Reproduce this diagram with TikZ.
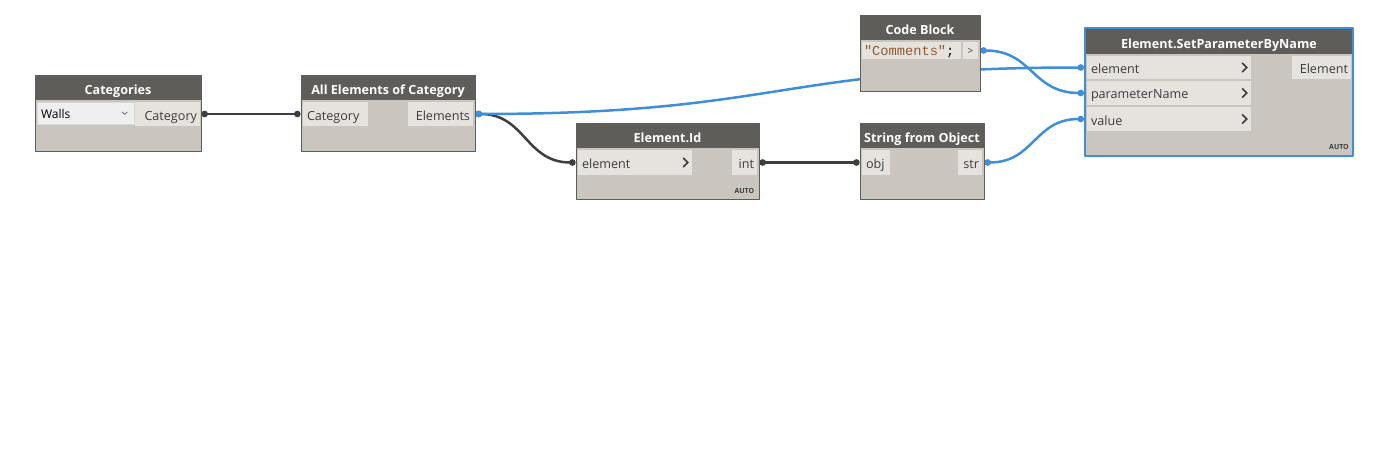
\documentclass[tikz,border=0pt]{standalone}
\usepackage{fontspec}
\setmainfont{Open Sans}
\newfontfamily\codefont{Liberation Mono}
\usetikzlibrary{
  arrows.meta,
  positioning,
  fit,
  backgrounds
}
\definecolor{hdrgray}{HTML}{5F5D5A}
\definecolor{bodygray}{HTML}{CAC6BF}
\definecolor{portgray}{HTML}{E6E3DF}
\definecolor{textgray}{HTML}{3C3C3C}
\definecolor{wiredark}{HTML}{3E3E3E}
\definecolor{wireblue}{HTML}{3E8ED8}
\definecolor{codebrown}{HTML}{8E5A2E}
\definecolor{dropgray}{HTML}{EFEFEF}

\begin{document}
\begin{tikzpicture}[
  x=1pt, y=-1pt,
  font=\fontsize{12.6}{14}\selectfont,
  line cap=round,
  line join=round,
  body/.style={
    draw=hdrgray,
    fill=bodygray,
    line width=0.8pt,
    inner sep=0pt
  },
  selbody/.style={
    draw=wireblue,
    fill=bodygray,
    line width=2pt,
    inner sep=0pt
  },
  header/.style={
    fill=hdrgray,
    inner sep=0pt
  },
  htext/.style={
    anchor=base,
    text=white,
    font=\fontsize{12.6}{14}\selectfont\bfseries,
    inner sep=0pt
  },
  port/.style={
    fill=portgray,
    inner sep=0pt
  },
  drop/.style={
    fill=dropgray,
    draw=white!85!black,
    line width=0.4pt,
    inner sep=0pt
  },
  intext/.style={
    anchor=base west,
    text=textgray,
    inner sep=0pt
  },
  outtext/.style={
    anchor=base east,
    text=textgray,
    inner sep=0pt
  },
  autolab/.style={
    font=\fontsize{7}{8}\selectfont\bfseries,
    text=textgray,
    inner sep=0pt
  },
  chev/.style={
    draw=textgray,
    line width=1.6pt,
    line cap=butt,
    line join=miter
  },
  wdark/.style={
    {Circle[length=6.5pt]}-{Circle[length=6.5pt]},
    draw=wiredark,
    line width=2.5pt
  },
  wblue/.style={
    {Circle[length=6.5pt]}-{Circle[length=6.5pt]},
    draw=wireblue,
    line width=2.5pt
  }
]
\useasboundingbox (0,0) rectangle (1390,460);

% Categories
\node[body, fit={(35,75) (201,151)}] (cat) {};
\node[header, fit={(35,75) (201,100)}] (cathd) {};
\node[htext] (cathdlab) at ([shift={(0,7)}]cathd.center) {Categories};
\node[drop, fit={(37,102) (134,124)}] (catdrop) {};
\node[intext, text=black, font=\fontsize{12}{14}\selectfont] (catwalls) at ([shift={(4,5)}]catdrop.west) {Walls};
\draw[draw=textgray, line width=0.6pt] ([shift={(-12,-1)}]catdrop.east) -- ++(2.5,2.5) -- ++(2.5,-2.5);
\node[port, fit={(135,102) (200,126)}] (catout) {};
\node[outtext] (catoutlab) at ([shift={(-3,6)}]catout.east) {Category};

% All Elements of Category
\node[body, fit={(301,75) (475,151)}] (all) {};
\node[header, fit={(301,75) (475,100)}] (allhd) {};
\node[htext] (allhdlab) at ([shift={(0,7)}]allhd.center) {All Elements of Category};
\node[port, fit={(303,102) (368,126)}] (allin) {};
\node[intext] (allinlab) at ([shift={(4,6)}]allin.west) {Category};
\node[port, fit={(408,102) (473,126)}] (allout) {};
\node[outtext] (alloutlab) at ([shift={(-3,6)}]allout.east) {Elements};

% Element.Id
\node[body, fit={(576,123) (759,199)}] (eid) {};
\node[header, fit={(576,123) (759,148)}] (eidhd) {};
\node[htext] (eidhdlab) at ([shift={(0,7)}]eidhd.center) {Element.Id};
\node[port, fit={(578,150) (692,175)}] (eidin) {};
\node[intext] (eidinlab) at ([shift={(4,6)}]eidin.west) {element};
\draw[chev] ([shift={(-9,4.5)}]eidin.east) -- ++(4.5,-4.5) -- ++(-4.5,-4.5);
\node[port, fit={(732,150) (757,175)}] (eidout) {};
\node[outtext] (eidoutlab) at ([shift={(-3,6)}]eidout.east) {int};
\node[autolab, anchor=south east] (eidauto) at ([shift={(-5,-6)}]eid.south east) {AUTO};

% Code Block
\node[body, fit={(860,15) (980,91)}] (cb) {};
\node[header, fit={(860,15) (980,40)}] (cbhd) {};
\node[htext] (cbhdlab) at ([shift={(0,7)}]cbhd.center) {Code Block};
\node[port, fit={(862,42) (961,59)}] (cbcode) {};
\node[intext, text=black, font=\codefont\fontsize{13.7}{14}\selectfont] (cbtext) at ([shift={(2,5)}]cbcode.west) {\textcolor{codebrown}{"Comments"};};
\node[port, fit={(963,42) (978,59)}] (cbout) {};
\node[anchor=base, text=textgray, inner sep=0pt, font=\fontsize{10}{12}\selectfont] (cboutlab) at ([shift={(0,4)}]cbout.center) {>};

% String from Object
\node[body, fit={(860,123) (984,199)}] (sfo) {};
\node[header, fit={(860,123) (984,148)}] (sfohd) {};
\node[htext] (sfohdlab) at ([shift={(0,7)}]sfohd.center) {String from Object};
\node[port, fit={(862,150) (890,175)}] (sfoin) {};
\node[intext] (sfoinlab) at ([shift={(4,6)}]sfoin.west) {obj};
\node[port, fit={(958,150) (982,175)}] (sfoout) {};
\node[outtext] (sfooutlab) at ([shift={(-3,6)}]sfoout.east) {str};

% Element.SetParameterByName
\node[selbody, fit={(1085,28) (1353,156)}] (spn) {};
\node[header, fit={(1086,29) (1352,54)}] (spnhd) {};
\node[htext] (spnhdlab) at ([shift={(0,7)}]spnhd.center) {Element.SetParameterByName};
\node[port, fit={(1087,56) (1251,79)}] (spnelem) {};
\node[intext] (spnelemlab) at ([shift={(4,6)}]spnelem.west) {element};
\draw[chev] ([shift={(-9,4.5)}]spnelem.east) -- ++(4.5,-4.5) -- ++(-4.5,-4.5);
\node[port, fit={(1087,81) (1251,105)}] (spnname) {};
\node[intext] (spnnamelab) at ([shift={(4,6)}]spnname.west) {parameterName};
\draw[chev] ([shift={(-9,4.5)}]spnname.east) -- ++(4.5,-4.5) -- ++(-4.5,-4.5);
\node[port, fit={(1087,107) (1251,131)}] (spnval) {};
\node[intext] (spnvallab) at ([shift={(4,6)}]spnval.west) {value};
\draw[chev] ([shift={(-9,4.5)}]spnval.east) -- ++(4.5,-4.5) -- ++(-4.5,-4.5);
\node[port, fit={(1292,56) (1351,79)}] (spnout) {};
\node[outtext] (spnoutlab) at ([shift={(-3,6)}]spnout.east) {Element};
\node[autolab, anchor=south east] (spnauto) at ([shift={(-5,-7)}]spn.south east) {AUTO};

% Wires
\begin{scope}[on background layer]
\draw[wdark] (cat.east |- catout.east) -- (all.west |- allin.west);
\draw[wdark] (all.east |- allout.east)
  .. controls +(50,0) and +(-50,0) .. (eid.west |- eidin.west);
\draw[wblue] (all.east |- allout.east)
  .. controls +(305,0) and +(-305,0) .. (spn.west |- spnelem.west);
\draw[wdark] (eid.east |- eidout.east) -- (sfo.west |- sfoin.west);
\draw[wblue] (cb.east |- cbout.east)
  .. controls +(52,0) and +(-52,0) .. (spn.west |- spnname.west);
\draw[wblue] (sfo.east |- sfoout.east)
  .. controls +(50,0) and +(-50,0) .. (spn.west |- spnval.west);
\end{scope}

\end{tikzpicture}
\end{document}
